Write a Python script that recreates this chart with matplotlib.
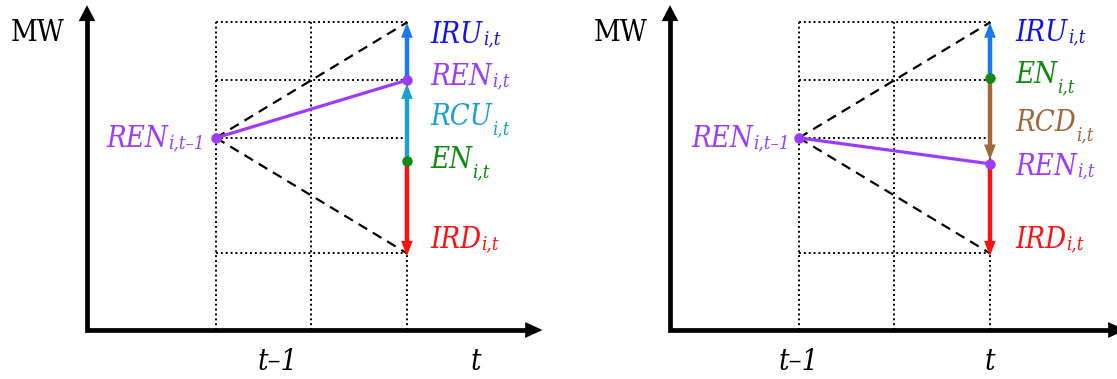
import matplotlib
matplotlib.use("Agg")
import matplotlib.pyplot as plt

W, H, DPI = 1117, 379, 100

# ---- schematic values (time steps, MW levels) ----
t_steps = [1.35, 2.35, 3.35]            # t-1, midpoint, t
grid_levels = [1.33, 3.33, 4.33, 5.33]  # dotted horizontal levels
ren_prev = 3.33                          # REN_{i,t-1}
iru_level = 5.33                         # upper ramp limit
ird_level = 1.28                         # lower ramp limit (arrow tip)
# left panel (up-regulation)
left_ren_t = 4.33
left_en_t = 2.93
left_rcu_tip = 4.27
# right panel (down-regulation)
right_en_t = 4.36
right_ren_t = 2.88
right_rcd_tip = 2.95

# tick labels
xlabels = ["t\u20131", "t"]
left_xlabel_pos = [2.0, 4.07]
right_xlabel_pos = [1.35, 3.35]

C_IRU_ARROW = "#1a78f5"
C_IRU_TEXT = "#1010f0"
C_REN = "#9b3cff"
C_RCU = "#1b9fd2"
C_EN = "#118a11"
C_IRD = "#ff1010"
C_RCD = "#a0683a"

FS = 21
FONT = "DejaVu Serif"
STRETCH = "condensed"

PX_X = 95.5   # px per x unit
PX_Y = 57.7   # px per y unit

fig = plt.figure(figsize=(W / DPI, H / DPI), dpi=DPI)


def make_axes(px_left, px_right, px_origin_x, px_origin_y=330):
    ax = fig.add_axes([px_left / W, 0, (px_right - px_left) / W, 1])
    ax.set_xlim((px_left - px_origin_x) / PX_X, (px_right - px_origin_x) / PX_X)
    ax.set_ylim((px_origin_y - H) / PX_Y, px_origin_y / PX_Y)
    ax.axis("off")
    return ax


def head(ax, x, y_tip, direction, color, hl=0.26, size=1.0):
    ax.annotate("", xy=(x, y_tip), xytext=(x, y_tip - direction * hl),
                arrowprops=dict(arrowstyle="-|>,head_length=%.2f,head_width=%.2f" % (1.1 * size, 0.42 * size),
                                lw=0, color=color, shrinkA=0, shrinkB=0,
                                mutation_scale=10),
                annotation_clip=False)


def arrow(ax, x, y0, y1, color, lw=3.2):
    d = 1 if y1 > y0 else -1
    hl = 14 / PX_Y
    ax.plot([x, x], [y0, y1 - d * hl * 0.9], color=color, lw=lw,
            solid_capstyle="butt", zorder=3)
    head(ax, x, y1, d, color)


def label(ax, x, y, main, sub, color, low=False):
    t = ax.text(x, y, main, color=color, fontsize=FS, family=FONT,
                fontstretch=STRETCH, style="italic", ha="left",
                va="center", zorder=5)
    # xy=(1,0) is baseline minus the "lp" descent (~0.236 em)
    base_off = 0.236 * FS
    dy = base_off - (7.5 if low else 1.5)
    ax.annotate(sub, xy=(1, 0), xycoords=t, xytext=(0.3, dy),
                textcoords="offset points", color=color,
                fontsize=FS * 0.64, family=FONT, fontstretch=STRETCH,
                style="italic", ha="left", va="baseline", zorder=5)


def base(ax, xlab_pos, x_tip=4.77):
    tp, tm, tn = t_steps
    for lv in grid_levels:
        ax.plot([tp, tn], [lv, lv], color="black", lw=1.4,
                ls=(0, (1, 1.5)), zorder=1)
    for xv in t_steps:
        ax.plot([xv, xv], [0, iru_level], color="black", lw=1.4,
                ls=(0, (1, 1.5)), zorder=1)
    ax.plot([tp, tn], [ren_prev, iru_level], color="black", lw=1.6,
            ls=(0, (4.5, 3)), zorder=2)
    ax.plot([tp, tn], [ren_prev, grid_levels[0]], color="black", lw=1.6,
            ls=(0, (4.5, 3)), zorder=2)
    y_top = 5.63
    ax.plot([0, 0, x_tip - 0.15], [y_top - 0.22, 0, 0], color="black", lw=3.4,
            solid_joinstyle="miter", zorder=4, clip_on=False)
    ax.annotate("", xy=(0, y_top), xytext=(0, y_top - 0.3),
                arrowprops=dict(arrowstyle="-|>,head_length=1.15,head_width=0.6",
                                lw=0, color="black", mutation_scale=10,
                                shrinkA=0, shrinkB=0), annotation_clip=False)
    ax.annotate("", xy=(x_tip, 0), xytext=(x_tip - 0.3, 0),
                arrowprops=dict(arrowstyle="-|>,head_length=1.25,head_width=0.57",
                                lw=0, color="black", mutation_scale=10,
                                shrinkA=0, shrinkB=0), annotation_clip=False)
    ax.text(-49.5 / PX_X, (330 - 33) / PX_Y, "MW", fontsize=FS, family=FONT,
            fontstretch=STRETCH, ha="center", va="center")
    for pos, lab in zip(xlab_pos, xlabels):
        ax.text(pos, -0.55, lab, fontsize=FS, family=FONT, fontstretch=STRETCH,
                style="italic", ha="center", va="center")


tp, tm, tn = t_steps

# ---------------- left panel ----------------
axL = make_axes(0, 558, 87)
base(axL, left_xlabel_pos)
arrow(axL, tn, left_ren_t, iru_level, C_IRU_ARROW)
arrow(axL, tn, left_en_t, left_rcu_tip, C_RCU)
arrow(axL, tn, left_en_t, ird_level, C_IRD)
axL.plot([tp, tn], [ren_prev, left_ren_t], color=C_REN, lw=2.3, zorder=4)
axL.plot([tp, tn], [ren_prev, left_ren_t], "o", color=C_REN, ms=6.5, zorder=6)
axL.plot([tn], [left_en_t], "o", color=C_EN, ms=6.5, zorder=6)
lx = (430 - 87) / PX_X
label(axL, lx, 5.11, "IRU", "i,t", C_IRU_TEXT)
label(axL, lx, 4.38, "REN", "i,t", C_REN)
label(axL, lx, 3.69, "RCU", "i,t", C_RCU, low=True)
label(axL, lx, 2.95, "EN", "i,t", C_EN, low=True)
label(axL, lx, 1.56, "IRD", "i,t", C_IRD)
label(axL, (106 - 87) / PX_X, ren_prev - 0.02, "REN", "i,t\u20131", C_REN)

# ---------------- right panel ----------------
axR = make_axes(558, 1117, 670)
base(axR, right_xlabel_pos)
arrow(axR, tn, right_en_t, iru_level, C_IRU_ARROW)
arrow(axR, tn, right_en_t, right_rcd_tip, C_RCD)
arrow(axR, tn, right_ren_t, ird_level, C_IRD)
axR.plot([tp, tn], [ren_prev, right_ren_t], color=C_REN, lw=2.3, zorder=4)
axR.plot([tp, tn], [ren_prev, right_ren_t], "o", color=C_REN, ms=6.5, zorder=6)
axR.plot([tn], [right_en_t], "o", color=C_EN, ms=6.5, zorder=6)
rx = (1015 - 670) / PX_X
label(axR, rx, 5.15, "IRU", "i,t", C_IRU_TEXT)
label(axR, rx, 4.42, "EN", "i,t", C_EN, low=True)
label(axR, rx, 3.59, "RCD", "i,t", C_RCD, low=True)
label(axR, rx, 2.83, "REN", "i,t", C_REN)
label(axR, rx, 1.56, "IRD", "i,t", C_IRD)
label(axR, (691 - 670) / PX_X, ren_prev - 0.02, "REN", "i,t\u20131", C_REN)

fig.savefig("out.png", dpi=DPI)
